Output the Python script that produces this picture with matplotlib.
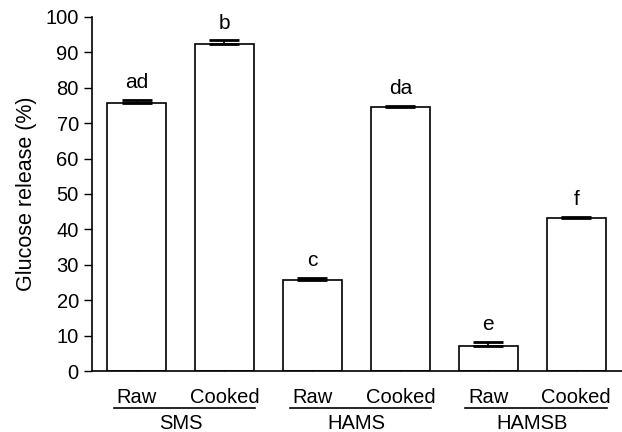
import matplotlib
matplotlib.use("Agg")
import matplotlib.pyplot as plt
import matplotlib.transforms as mtransforms
import numpy as np

plt.rcParams['font.family'] = ['Liberation Sans', 'DejaVu Sans']

groups = ["SMS", "HAMS", "HAMSB"]
treatments = ["Raw", "Cooked"]
means = [75.8, 92.2, 25.8, 74.6, 7.0, 43.2]
errs = [0.8, 1.3, 0.6, 0.3, 1.3, 0.4]
letters = ["ad", "b", "c", "da", "e", "f"]

fig = plt.figure(figsize=(6.22, 4.32), dpi=100)
ax = fig.add_axes([0.148, 0.141, 0.852, 0.82])

x = np.arange(len(means))
ax.bar(x, means, width=0.67, color="white", edgecolor="black", linewidth=1.2, zorder=2)
ax.errorbar(x, means, yerr=[np.zeros(len(errs)), errs], fmt="none", ecolor="black",
            elinewidth=1.2, capsize=11, capthick=2, zorder=3)
for xi, m, e, lab in zip(x, means, errs, letters):
    ax.text(xi, m + e + 3.2, lab, ha="center", va="baseline", fontsize=15)

ax.set_xlim(-0.506, 5.52)
ax.set_ylim(0, 100)
ax.set_yticks(np.arange(0, 101, 10))
ax.set_xticks(x)
ax.set_xticklabels(treatments * len(groups))
ax.tick_params(axis="x", direction="in", length=5, pad=12, labelsize=14.5, width=1)
ax.tick_params(axis="y", direction="out", length=6, labelsize=14.5, width=1)
ax.spines["top"].set_visible(False)
ax.spines["right"].set_visible(False)
ax.spines["left"].set_linewidth(1.2)
ax.spines["bottom"].set_linewidth(1.2)
ax.set_ylabel("Glucose release (%)", fontsize=15.5, labelpad=6)

# group underlines and names
trans = mtransforms.blended_transform_factory(ax.transData, fig.transFigure)
for i, g in enumerate(groups):
    x0 = 2 * i - 0.26
    x1 = 2 * i + 1 + 0.35
    ax.plot([x0, x1], [0.055, 0.055], color="black", lw=1.2, transform=trans, clip_on=False)
    ax.text(2 * i + 0.5, 0.042, g, ha="center", va="top", fontsize=14.5, transform=trans)

fig.savefig("out.png", dpi=100)
